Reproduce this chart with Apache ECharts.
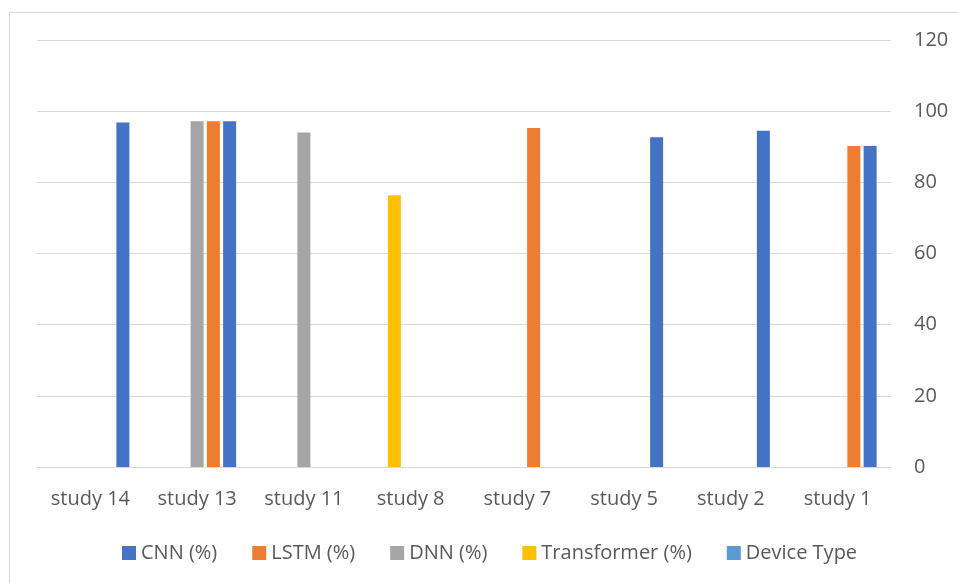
<!DOCTYPE html>
<html>
<head>
<meta charset="utf-8">
<script src="https://cdn.jsdelivr.net/npm/echarts@6/dist/echarts.min.js"></script>
<style>
  html, body { margin: 0; padding: 0; background: #ffffff; }
  #chart { width: 958px; height: 583px; }
</style>
</head>
<body>
<div id="chart"></div>
<script>
// Studies, in the order they run along the axis
const studies = ['study 14', 'study 13', 'study 11', 'study 8', 'study 7', 'study 5', 'study 2', 'study 1'];

// Reported accuracy per model family (%), null where a study has no result
const cnnPct         = [96.8, 97.2, null, null, null, 92.7, 94.5, 90.2];
const lstmPct        = [null, 97.2, null, null, 95.3, null, null, 90.2];
const dnnPct         = [null, 97.2, 94.0, null, null, null, null, null];
const transformerPct = [null, null, null, 76.4, null, null, null, null];
const deviceType     = [null, null, null, null, null, null, null, null];

const yTicks = { min: 0, max: 120, step: 20 };

const textColor = '#595959';
const gridColor = '#d9d9d9';
const fontFamily = '"Open Sans", "Noto Sans", sans-serif';

function barSeries(name, values, color) {
  return {
    name: name,
    type: 'bar',
    data: values,
    barWidth: 13,
    barGap: '25%',
    itemStyle: { color: color },
    emphasis: { disabled: true }
  };
}

const chart = echarts.init(document.getElementById('chart'), null, { renderer: 'canvas' });

chart.setOption({
  animation: false,
  backgroundColor: '#ffffff',
  textStyle: { fontFamily: fontFamily },
  graphic: [{
    type: 'rect',
    left: 7, top: 10,
    shape: { width: 1200, height: 1200 },
    style: { fill: 'none', stroke: gridColor, lineWidth: 1 },
    silent: true, z: -10
  }],
  grid: { left: 37, right: 67, top: 40, bottom: 116 },
  legend: {
    data: ['CNN (%)', 'LSTM (%)', 'DNN (%)', 'Transformer (%)', 'Device Type'],
    left: 122,
    top: 543,
    padding: 0,
    icon: 'rect',
    itemWidth: 14,
    itemHeight: 14,
    itemGap: 35,
    textStyle: { fontSize: 20, color: textColor, fontFamily: fontFamily }
  },
  xAxis: {
    type: 'category',
    data: studies,
    axisLine: { show: true, lineStyle: { color: gridColor, width: 1 } },
    axisTick: { show: false },
    axisLabel: { color: textColor, fontSize: 20, margin: 22, fontFamily: fontFamily }
  },
  yAxis: {
    type: 'value',
    position: 'right',
    min: yTicks.min,
    max: yTicks.max,
    interval: yTicks.step,
    axisLine: { show: false },
    axisTick: { show: false },
    splitLine: { lineStyle: { color: gridColor, width: 1 } },
    axisLabel: { color: textColor, fontSize: 20, margin: 23, fontFamily: fontFamily }
  },
  series: [
    barSeries('Device Type', deviceType, '#5B9BD5'),
    barSeries('Transformer (%)', transformerPct, '#FFC000'),
    barSeries('DNN (%)', dnnPct, '#A5A5A5'),
    barSeries('LSTM (%)', lstmPct, '#ED7D31'),
    barSeries('CNN (%)', cnnPct, '#4472C4')
  ]
});
</script>
</body>
</html>
